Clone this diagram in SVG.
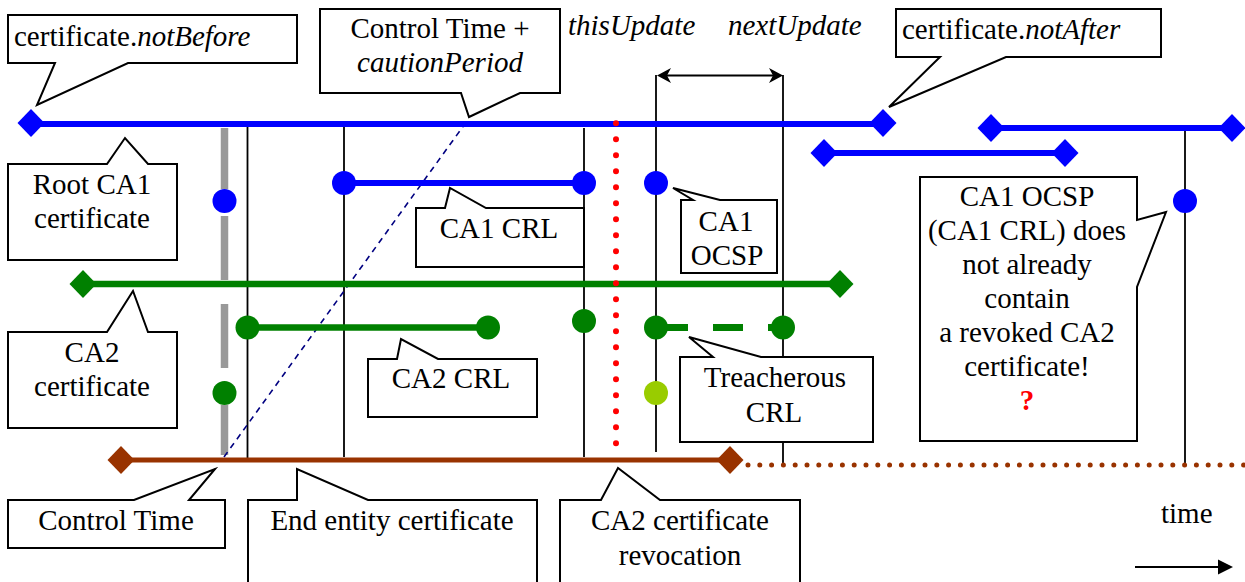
<svg xmlns="http://www.w3.org/2000/svg" width="1245" height="582" viewBox="0 0 1245 582">
<style>
text{font-family:"Liberation Serif","Times New Roman",serif;font-size:29px;fill:#000}
.c{text-anchor:middle}
.i{font-style:italic}
.box{fill:#fff;stroke:#000;stroke-width:2}
.v{stroke:#000;stroke-width:1.8;fill:none}
.blue{stroke:#0000FF;stroke-width:6;fill:none}
.green{stroke:#008000;stroke-width:6.5;fill:none}
.brown{stroke:#993300;stroke-width:5;fill:none}
.gray{stroke:#999999;stroke-width:7.5;fill:none}
.db{fill:#0000FF}.dg{fill:#008000}.dr{fill:#993300}
</style>
<defs>
<path id="dia" d="M-13.5,0 L0,-14 L13.5,0 L0,14 Z"/>
</defs>
<rect width="1245" height="582" fill="#fff"/>

<g id="connectors">
<line class="v" x1="247.5" y1="124" x2="247.5" y2="460"/>
<line class="v" x1="344" y1="124" x2="344" y2="457"/>
<line class="v" x1="584" y1="128" x2="584" y2="457"/>
<line class="v" x1="656" y1="75" x2="656" y2="452"/>
<line class="v" x1="783" y1="75" x2="783" y2="465"/>
<line class="v" x1="1185" y1="128" x2="1185" y2="463"/>
<g id="gray-line">
<line class="gray" x1="224.5" y1="128" x2="224.5" y2="189"/>
<line class="gray" x1="224.5" y1="216" x2="224.5" y2="280"/>
<line class="gray" x1="224.5" y1="304" x2="224.5" y2="368"/>
<line class="gray" x1="224.5" y1="405" x2="224.5" y2="455"/>
</g>
<line x1="224" y1="457" x2="467" y2="121" stroke="#000080" stroke-width="1.6" stroke-dasharray="6 5"/>
<g id="update-arrow">
<line x1="662" y1="75.5" x2="778" y2="75.5" stroke="#000" stroke-width="2"/>
<path d="M657,75.5 L671,68 L667,75.5 L671,83 Z" fill="#000"/>
<path d="M783,75.5 L769,68 L773,75.5 L769,83 Z" fill="#000"/>
</g>
<g id="time-arrow">
<line x1="1135" y1="567" x2="1220" y2="567" stroke="#000" stroke-width="2"/>
<path d="M1233,567 L1218,559.5 L1218,574.5 Z" fill="#000"/>
</g>
</g>

<g id="root-ca1-cert">
<line class="blue" x1="31" y1="124" x2="883" y2="124"/>
<use href="#dia" x="31" y="123" class="db"/>
<use href="#dia" x="883" y="123" class="db"/>
</g>
<g id="ca1-cert-2">
<line class="blue" x1="824" y1="153" x2="1065" y2="153"/>
<use href="#dia" x="824" y="153" class="db"/>
<use href="#dia" x="1065" y="153" class="db"/>
</g>
<g id="ca1-cert-3">
<line class="blue" x1="991" y1="128" x2="1232" y2="128"/>
<use href="#dia" x="991" y="128" class="db"/>
<use href="#dia" x="1232" y="128" class="db"/>
</g>
<g id="ca2-cert">
<line class="green" x1="83" y1="284" x2="840" y2="284"/>
<use href="#dia" x="83" y="284" class="dg"/>
<use href="#dia" x="840" y="284" class="dg"/>
</g>
<g id="end-entity-cert">
<line class="brown" x1="121" y1="460" x2="730" y2="460"/>
<line x1="748" y1="465" x2="1245" y2="465" stroke="#993300" stroke-width="5" stroke-linecap="round" stroke-dasharray="0 11.8"/>
<use href="#dia" x="121" y="460" class="dr"/>
<use href="#dia" x="730" y="460" class="dr"/>
</g>
<g id="ca1-crl">
<line class="blue" x1="344" y1="183" x2="584" y2="183"/>
<circle cx="344" cy="183" r="12" fill="#0000FF"/>
<circle cx="584" cy="183" r="12" fill="#0000FF"/>
</g>
<g id="ca2-crl">
<line class="green" x1="247.5" y1="327.5" x2="488" y2="327.5"/>
<circle cx="247.5" cy="327.5" r="12" fill="#008000"/>
<circle cx="488" cy="327.5" r="12" fill="#008000"/>
</g>
<g id="treacherous-crl">
<line x1="658" y1="327.5" x2="783" y2="327.5" stroke="#008000" stroke-width="7" stroke-dasharray="30 25"/>
<circle cx="656" cy="327.5" r="12" fill="#008000"/>
<circle cx="783" cy="327.5" r="12" fill="#008000"/>
</g>
<g id="points">
<circle cx="224.5" cy="201" r="12" fill="#0000FF"/>
<circle cx="656" cy="183" r="12" fill="#0000FF"/>
<circle cx="1185" cy="201" r="12" fill="#0000FF"/>
<circle cx="584" cy="321" r="12" fill="#008000"/>
<circle cx="224.5" cy="393" r="12" fill="#008000"/>
<circle cx="656" cy="393" r="12" fill="#99CC00"/>
</g>
<g id="revocation-line">
<line x1="616" y1="123.3" x2="616" y2="444" stroke="#FF0000" stroke-width="6" stroke-linecap="round" stroke-dasharray="0 16"/>
</g>

<g id="callout-notbefore">
<path class="box" d="M8,15 H297 V63 H128 L37,105 L55,63 H8 Z"/>
<text x="14" y="46">certificate.<tspan class="i">notBefore</tspan></text>
</g>
<g id="callout-caution">
<path class="box" d="M320,9 H560 V93 H520 L469,117 L461,93 H320 Z"/>
<text class="c" x="440" y="38">Control Time +</text>
<text class="c i" x="440" y="72">cautionPeriod</text>
</g>
<g id="label-thisupdate"><text class="i" x="568" y="35">thisUpdate</text></g>
<g id="label-nextupdate"><text class="i" x="728" y="35">nextUpdate</text></g>
<g id="callout-notafter">
<path class="box" d="M896,9 H1161 V57 H1006 L889,107 L940,57 H896 Z"/>
<text x="902" y="39">certificate.<tspan class="i">notAfter</tspan></text>
</g>
<g id="callout-root-ca1">
<path class="box" d="M8,164 H107 L125,138 L148,164 H177 V260 H8 Z"/>
<text class="c" x="92" y="194">Root CA1</text>
<text class="c" x="92" y="228">certificate</text>
</g>
<g id="callout-ca1-crl">
<path class="box" d="M416,208 H445 L450,188 L486,208 H584 V267 H416 Z"/>
<text class="c" x="499" y="238">CA1 CRL</text>
</g>
<g id="callout-ca1-ocsp">
<path class="box" d="M681,200 H693 L673,188 L720,200 H777 V273 H681 Z"/>
<text class="c" x="726" y="231">CA1</text>
<text class="c" x="727" y="265">OCSP</text>
</g>
<g id="callout-note">
<path class="box" d="M920,177 H1137 V220 L1166,212 L1137,287 V441 H920 Z"/>
<text class="c" x="1027" y="206">CA1 OCSP</text>
<text class="c" x="1027" y="240">(CA1 CRL) does</text>
<text class="c" x="1027" y="274">not already</text>
<text class="c" x="1027" y="308">contain</text>
<text class="c" x="1027" y="342">a revoked CA2</text>
<text class="c" x="1027" y="376">certificate!</text>
<text class="c" x="1027" y="410" fill="#FF0000" style="fill:#FF0000;font-weight:bold">?</text>
</g>
<g id="callout-ca2">
<path class="box" d="M8,332 H107 L133,291 L148,332 H177 V428 H8 Z"/>
<text class="c" x="92" y="362">CA2</text>
<text class="c" x="92" y="396">certificate</text>
</g>
<g id="callout-ca2-crl">
<path class="box" d="M368,359 H397 L401,339 L438,359 H537 V417 H368 Z"/>
<text class="c" x="451" y="388">CA2 CRL</text>
</g>
<g id="callout-treacherous">
<path class="box" d="M680,357 H713 L689,337 L761,357 H873 V442 H680 Z"/>
<text class="c" x="775" y="387">Treacherous</text>
<text class="c" x="774" y="422">CRL</text>
</g>
<g id="callout-control-time">
<path class="box" d="M8,500 H134 L215,469 L189,500 H225 V548 H8 Z"/>
<text class="c" x="116" y="530">Control Time</text>
</g>
<g id="callout-end-entity">
<path class="box" d="M248,600 V500 H297 L297,469 L368,500 H537 V600"/>
<text class="c" x="392" y="530">End entity certificate</text>
</g>
<g id="callout-revocation">
<path class="box" d="M560,600 V500 H601 L618,468 L660,500 H800 V600"/>
<text class="c" x="680" y="530">CA2 certificate</text>
<text class="c" x="680" y="565">revocation</text>
</g>
<g id="label-time"><text x="1161" y="523">time</text></g>
</svg>
